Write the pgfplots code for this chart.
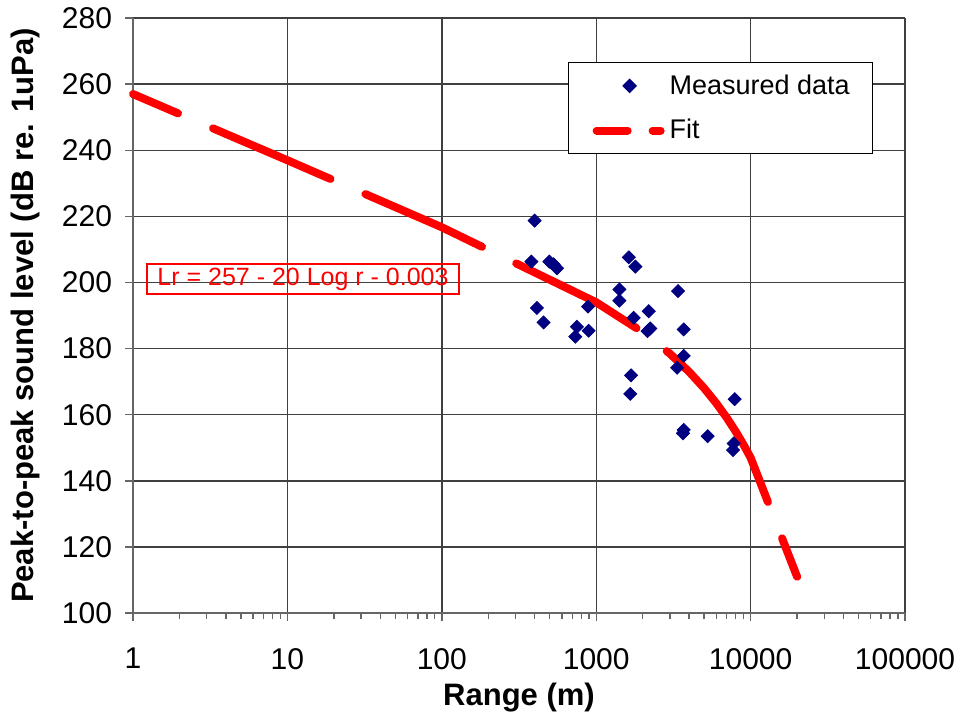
\documentclass[border=0pt]{standalone}
\usepackage{fontspec}
\setmainfont{Liberation Sans}
\usepackage{pgfplots}
\pgfplotsset{compat=1.18}
\definecolor{navy}{HTML}{000080}
\definecolor{gridc}{HTML}{404040}
\pgfplotsset{
  legmark/.style={legend image code/.code={\path[draw=none] (0pt,0pt) -- (39pt,0pt);\path[##1, draw=none] plot[only marks, mark=square*, mark size=2.3pt, mark options={rotate=45, fill=navy, draw=navy}] coordinates {(24.5pt,0pt)};}},
  legfit/.style={legend image code/.code={\path[draw=none] (0pt,0pt) -- (39pt,0pt);\draw[##1, line width=4pt, dash pattern=on 15.5pt off 12.5pt on 4pt off 60pt, dash phase=0pt] (8pt,0pt) -- (40.5pt,0pt);}},
}
\begin{document}
\begin{tikzpicture}
\begin{axis}[
  scale only axis,
  width=386pt, height=297.5pt,
  xmode=log, xmin=1, xmax=100000,
  ymin=100, ymax=280,
  ytick={100,120,...,280},
  xtick={1,10,100,1000,10000,100000},
  log ticks with fixed point,
  /pgf/number format/1000 sep={},
  /pgf/number format/assume math mode=true,
  grid=major,
  major grid style={gridc, line width=0.7pt},
  axis lines*=left,
  axis line style={gray!80!black, line width=0.8pt},
  tick style={gray!80!black, line width=0.7pt},
  tick align=outside,
  major tick length=4pt, minor tick length=3pt,
  ticklabel style={font=\fontsize{15}{18}\selectfont},
  xticklabel style={yshift=-10pt},
  yticklabel style={xshift=-3pt},
  xlabel={\textbf{Range (m)}},
  ylabel={\textbf{Peak-to-peak sound level (dB re. 1uPa)}},
  label style={font=\fontsize{15.5}{18}\selectfont},
  ylabel shift=4pt,
  clip=false,
  legend cell align=left,
  legend style={at={(rel axis cs:0.5635,0.926)}, anchor=north west,
    draw=black, line width=0.6pt, font=\fontsize{13.5}{16}\selectfont,
    inner xsep=6pt, inner ysep=4pt, row sep=7pt},
]
\path (rel axis cs:-0.1723,-0.1782) rectangle (rel axis cs:1.0738,1.0303);
\addplot[only marks, mark=square*, mark size=2.3pt, mark options={rotate=45, fill=navy, draw=navy}, navy, legmark]
  coordinates {
  (399,218.7) (380,206.3) (497,206.3) (530,205.5) (557,204.3)
  (413,192.3) (456,187.9) (885,192.7) (750,186.6) (732,183.6) (893,185.4)
  (1626,207.6) (1793,204.8) (1413,197.9) (1413,194.5) (2187,191.3)
  (1749,189.3) (2240,186.1) (2150,185.3) (1681,171.9) (1660,166.3)
  (3388,197.4) (3688,185.8) (3688,177.8) (3340,174.2) (7886,164.7)
  (3688,155.4) (3650,154.4) (5270,153.5) (7770,151.3) (7700,149.3)
  };
\addlegendentry{Measured data\rule{3.5pt}{0pt}}
\addplot[red, line width=4pt, line cap=round,
  dash pattern=on 24.5pt off 19pt on 64pt off 19pt on 64pt off 19pt on 68.4pt off 19pt on 92pt off 19.5pt on 100pt off 10pt,
  dash phase=0pt, legfit]
  coordinates {
  (1,257.00) (10,236.97) (100,216.70) (1000,194.00) (2000,184.98)
  (3000,178.46) (4000,172.96) (5000,168.02) (6000,163.44) (7000,159.10)
  (8000,154.94) (9000,150.92) (10000,147.00) (20000,110.98)
  };
\addlegendentry{Fit}
\node[draw=red, line width=0.8pt, text=red, minimum width=156pt, minimum height=15pt,
  inner sep=1pt, font=\fontsize{12.5}{15}\selectfont]
  at (rel axis cs:0.2202,0.5613) {Lr = 257 - 20 Log r - 0.003};
\end{axis}
\end{tikzpicture}
\end{document}
